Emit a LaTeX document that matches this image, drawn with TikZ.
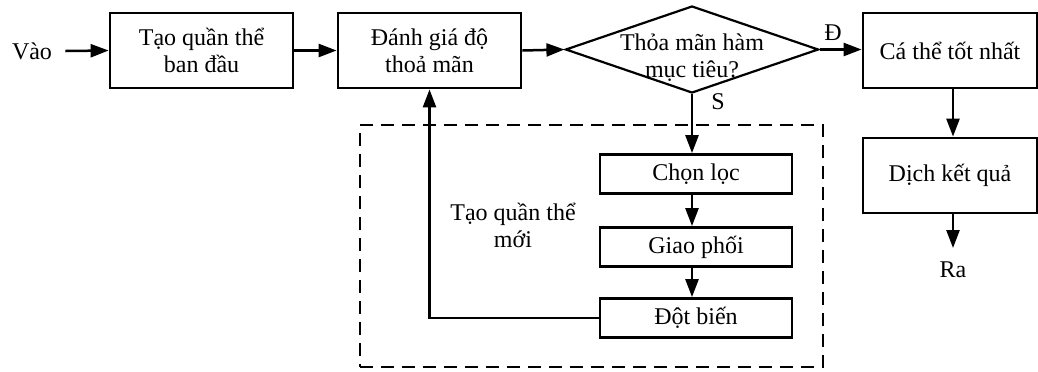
\documentclass[tikz,border=0pt]{standalone}
\usepackage{fontspec}
\setmainfont{Liberation Serif}
\usetikzlibrary{arrows.meta,shapes.geometric}
\begin{document}
\begin{tikzpicture}[x=0.5pt,y=-0.5pt,
  font=\fontsize{12}{13.5}\selectfont,
  box/.style={draw,line width=1.4pt,inner sep=0pt,align=center},
  bigbox/.style={box,minimum width=91.5pt,minimum height=37.5pt},
  smallbox/.style={box,minimum width=96pt,minimum height=19.5pt},
  arr/.style={line width=1.25pt,-{Triangle[length=9pt,width=6.5pt]}},
  lbl/.style={inner sep=0pt,align=center}]
\useasboundingbox (0,0) rectangle (1038,371);
% group
\node[draw,line width=1.3pt,dash pattern=on 6.5pt off 4pt,minimum width=231.5pt,minimum height=121pt,inner sep=0pt] (grp) at (591.5,246) {};
% nodes
\node[lbl] (in) at (32,51) {Vào};
\node[bigbox] (init) at (201.5,50.5) {Tạo quần thể\\ban đầu};
\node[bigbox] (eval) at (429.5,50.5) {Đánh giá độ\\thoả mãn};
\node[draw,diamond,line width=1.1pt,minimum width=126.5pt,minimum height=43.5pt,inner sep=0pt] (dec) at (692,49.5) {};
\node[lbl] (dectxt) at (692,58) {Thỏa mãn hàm\\mục tiêu?};
\node[box,minimum width=87pt,minimum height=37.5pt] (best) at (950,50.5) {Cá thể tốt nhất};
\node[box,minimum width=87pt,minimum height=37.5pt] (trans) at (950,175.5) {Dịch kết quả};
\node[lbl] (out) at (953,270) {Ra};
\coordinate (outtip) at (953,248);
\node[smallbox] (sel) at (696,174) {Chọn lọc};
\node[smallbox] (cross) at (696,247) {Giao phối};
\node[smallbox] (mut) at (696,318) {Đột biến};
\node[lbl] (grplbl) at (513,225) {Tạo quần thể\\mới};
\node[lbl] (yes) at (833,33) {Đ};
\node[lbl] (no) at (718,102) {S};
% connectors
\draw[arr] (in.east) ++(13,0) -- (init.west);
\draw[arr] (init.east) -- (eval.west);
\draw[arr] (eval.east) -- (dec.west);
\draw[arr] (dec.east) -- (dec.east -| best.west);
\draw[arr] (dec.south) -- (dec.south |- sel.north);
\draw[arr] (dec.south |- sel.south) -- (dec.south |- cross.north);
\draw[arr] (dec.south |- cross.south) -- (dec.south |- mut.north);
\draw[arr] (mut.west) -| (eval.south);
\draw[arr] (best.south -| outtip) -- (trans.north -| outtip);
\draw[arr] (trans.south -| outtip) -- (outtip);
\end{tikzpicture}
\end{document}
